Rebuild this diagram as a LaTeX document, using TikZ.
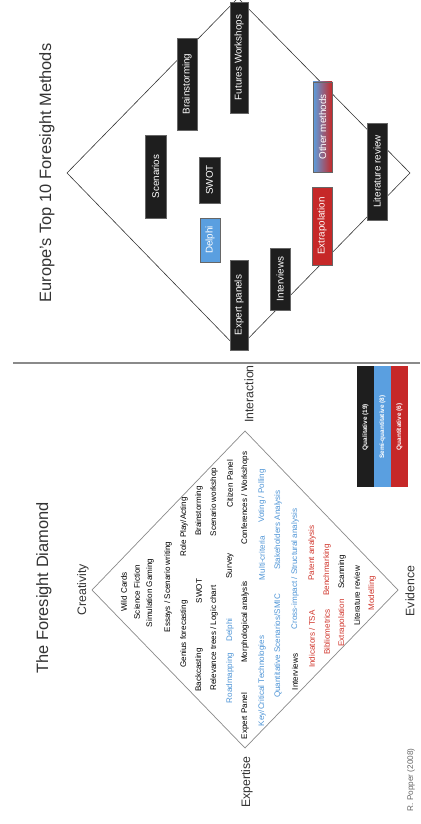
\documentclass[tikz,border=0pt]{standalone}
\usepackage{fontspec}
\setmainfont{Liberation Sans}
\usepackage{tikz}
\usetikzlibrary{positioning, calc}
\usepackage{xcolor}
\definecolor{methodblack}{HTML}{1E1E1E}
\definecolor{methodblue}{HTML}{5A9FE0}
\definecolor{methodred}{HTML}{C62828}
\definecolor{textblue}{HTML}{4F95D6}
\definecolor{textred}{HTML}{D0352B}
\definecolor{diamondgray}{HTML}{8A8A8A}
\definecolor{titlegray}{HTML}{333333}

\begin{document}
\begin{tikzpicture}[x=0.03cm, y=-0.03cm, rotate=90, transform shape,
        slidetitle/.style={font=\fontsize{14}{16}\selectfont, text=titlegray, inner sep=0pt},
        axislabel/.style={font=\fontsize{10.5}{12}\selectfont, text=titlegray, inner sep=0pt},
        dtext/.style={font=\fontsize{6.9}{7.5}\selectfont, inner sep=0pt},
        methodbox/.style={draw=black!60, line width=0.3pt, text=white, inner sep=0pt, minimum height=0.6cm, font=\fontsize{8.4}{10}\selectfont},
        legendbar/.style={minimum width=3.63cm, minimum height=0.51cm, inner sep=0pt, text=white, font=\fontsize{5.5}{6}\bfseries}]
                \useasboundingbox (0,0) rectangle (824,420);

                \node[slidetitle] (lefttitle) at (236,44) {The Foresight Diamond};
                \node[slidetitle] (righttitle) at (651,47) {Europe's Top 10 Foresight Methods};

                \coordinate (septop) at (461,13);
                \coordinate (sepbottom) at (461,420);
                \draw[diamondgray, line width=1.6pt] (septop) -- (sepbottom);

                % foresight diamond
                \coordinate (ltop) at (234,92);
                \coordinate (lright) at (393,245);
                \coordinate (lbottom) at (234,398);
                \coordinate (lleft) at (76,245);
                \draw[diamondgray, line width=0.6pt] (ltop) -- (lright) -- (lbottom) -- (lleft) -- cycle;

                \node[axislabel] (creativity) at (234,83) {Creativity};
                \node[axislabel] (evidence) at (233,410) {Evidence};
                \node[axislabel] (expertise) at (42,247) {Expertise};
                \node[axislabel] (interaction) at (430,249) {Interaction};
                \node[font=\fontsize{7}{8}\selectfont, text=black!60, inner sep=0pt] (popper) at (44,411) {R. Popper (2008)};

                \node[dtext] (wildcards) at (232,124) {Wild Cards};
                \node[dtext] (scifi) at (232,137) {Science Fiction};
                \node[dtext] (simgaming) at (231,150) {Simulation Gaming};
                \node[dtext] (essays) at (237,168) {Essays / Scenario writing};
                \node[dtext] (genius) at (190,184) {Genius forecasting};
                \node[dtext] (roleplay) at (297,184) {Role Play/Acting};
                \node[dtext] (backcasting) at (154,199) {Backcasting};
                \node[dtext] (swotl) at (233,199) {SWOT};
                \node[dtext] (brainl) at (313,199) {Brainstorming};
                \node[dtext] (relevance) at (186,214) {Relevance trees / Logic chart};
                \node[dtext] (scenws) at (322,214) {Scenario workshop};
                \node[dtext, text=textblue] (roadmap) at (146,230) {Roadmapping};
                \node[dtext, text=textblue] (delphil) at (194,230) {Delphi};
                \node[dtext] (survey) at (258,230) {Survey};
                \node[dtext] (citizen) at (340,230) {Citizen Panel};
                \node[dtext] (expertl) at (108,245) {Expert Panel};
                \node[dtext] (morph) at (202,245) {Morphological analysis};
                \node[dtext] (conf) at (326,245) {Conferences / Workshops};
                \node[dtext, text=textblue] (keytech) at (143,262) {Key/Critical Technologies};
                \node[dtext, text=textblue] (multicrit) at (266,262) {Multi-criteria};
                \node[dtext, text=textblue] (voting) at (328,262) {Voting / Polling};
                \node[dtext, text=textblue] (quantscen) at (178,278) {Quantitative Scenarios/SMIC};
                \node[dtext, text=textblue] (stakeholders) at (294,278) {Stakeholders Analysis};
                \node[dtext] (interviewsl) at (152,295) {Interviews};
                \node[dtext, text=textblue] (crossimpact) at (255,295) {Cross-impact / Structural analysis};
                \node[dtext, text=textred] (indicators) at (185,312) {Indicators / TSA};
                \node[dtext, text=textred] (patent) at (271,312) {Patent analysis};
                \node[dtext, text=textred] (biblio) at (192,327) {Bibliometrics};
                \node[dtext, text=textred] (benchmark) at (254,327) {Benchmarking};
                \node[dtext, text=textred] (extrapl) at (201,342) {Extrapolation};
                \node[dtext] (scanning) at (252,342) {Scanning};
                \node[dtext] (litl) at (228,357) {Literature review};
                \node[dtext, text=textred] (modelling) at (231,372) {Modelling};

                \node[legendbar, fill=methodblack] (qualbar) at (397,365.5) {Qualitative (19)};
                \node[legendbar, fill=methodblue] (semibar) at (397,382.5) {Semi-quantitative (8)};
                \node[legendbar, fill=methodred] (quantbar) at (397,399.5) {Quantitative (6)};

                % top 10 methods
                \coordinate (rtop) at (651,67);
                \coordinate (rright) at (826,238);
                \coordinate (rbottom) at (651,410);
                \coordinate (rleft) at (475,238);
                \draw[black!80, line width=0.5pt] (rtop) -- (rright) -- (rbottom) -- (rleft) -- cycle;

                \node[methodbox, fill=methodblack, minimum width=2.49cm, minimum height=0.63cm] (scenarios) at (647.5,155.5) {Scenarios};
                \node[methodbox, fill=methodblack, minimum width=2.76cm] (brainstorming) at (740,187) {Brainstorming};
                \node[methodbox, fill=methodblack, minimum width=1.38cm, minimum height=0.63cm] (swot) at (644,209.5) {SWOT};
                \node[methodbox, fill=methodblue, minimum width=1.32cm] (delphi) at (584,210) {Delphi};
                \node[methodbox, fill=methodblack, minimum width=3.33cm, minimum height=0.54cm] (futures) at (766.5,239) {Futures Workshops};
                \node[methodbox, fill=methodblack, minimum width=2.7cm, minimum height=0.54cm] (expertpanels) at (519,239) {Expert panels};
                \node[methodbox, fill=methodblack, minimum width=1.86cm] (interviews) at (545,280) {Interviews};
                \node[methodbox, fill=methodred, minimum width=2.34cm] (extrapolation) at (598,322) {Extrapolation};
                \node[methodbox, left color=methodblue, right color=methodred, minimum width=2.7cm, minimum height=0.57cm] (othermethods) at (697,322.5) {Other methods};
                \node[methodbox, fill=methodblack, minimum width=2.91cm] (literature) at (652.5,377) {Literature review};
            \end{tikzpicture}
\end{document}
